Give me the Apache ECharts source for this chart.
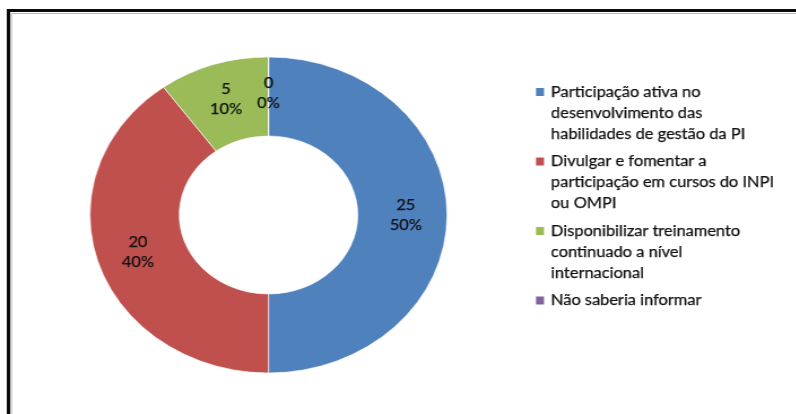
<!DOCTYPE html>
<html>
<head>
<meta charset="utf-8">
<script src="https://cdn.jsdelivr.net/npm/echarts@6/dist/echarts.min.js"></script>
<style>
  html, body { margin: 0; padding: 0; background: #fff; overflow: hidden; }
  #wrap { width: 796px; height: 414px; overflow: hidden; position: relative; }
  /* the chart is laid out narrower and stretched sideways, giving the oval doughnut */
  #chart { position: absolute; left: 0; top: 0; height: 414px; transform-origin: 0 0; }
</style>
</head>
<body>
<div id="wrap"><div id="chart"></div></div>
<script>
// Respostas por categoria
const categories = [
  'Participação ativa no\ndesenvolvimento das\nhabilidades de gestão da PI',
  'Divulgar e fomentar a\nparticipação em cursos do INPI\nou OMPI',
  'Disponibilizar treinamento\ncontinuado a nível\ninternacional',
  'Não saberia informar'
];
const values = [25, 20, 5, 0];
const colors = ['#4F81BD', '#C0504D', '#9BBB59', '#8064A2'];

const STRETCH = 1.13;          // horizontal stretch of the whole drawing
const W = 796 / STRETCH;
const sx = x => x / STRETCH;   // page x -> chart x

const el = document.getElementById('chart');
el.style.width = W + 'px';
el.style.transform = 'scaleX(' + STRETCH + ')';

const chart = echarts.init(el, null, { renderer: 'canvas' });

const FONT = 'Lato, "Open Sans", sans-serif';
const LINE_H = 21;
const ITEM_GAP = 6.5;
const TEXT_COLOR = '#111111';

// legend drawn as graphic items: square swatch beside the first line of each name
const legendItems = [];
let y = 92;
categories.forEach((name, i) => {
  const lines = name.split('\n').length;
  legendItems.push({
    type: 'rect',
    shape: { x: sx(536), y: y - 4, width: sx(544) - sx(536), height: 8 },
    style: { fill: colors[i] },
    silent: true
  });
  legendItems.push({
    type: 'text',
    x: sx(551),
    y: y - LINE_H / 2,
    style: {
      text: name,
      font: '14.5px ' + FONT,
      lineHeight: LINE_H,
      fill: TEXT_COLOR,
      stroke: TEXT_COLOR,
      lineWidth: 0.25,
      verticalAlign: 'top',
      align: 'left'
    },
    silent: true
  });
  y += lines * LINE_H + ITEM_GAP;
});

// outer frame
const frame = [
  {
    type: 'rect',
    shape: { x: sx(8.5), y: 10.5, width: 2000, height: 2000 },
    style: { fill: null, stroke: '#0a0a0a', lineWidth: 3 },
    silent: true
  },
  {
    type: 'rect',
    shape: { x: sx(11.5), y: 13.5, width: 2000, height: 2000 },
    style: { fill: null, stroke: '#b5b5b5', lineWidth: 1 },
    silent: true
  }
];

chart.setOption({
  backgroundColor: '#ffffff',
  animation: false,
  color: colors,
  graphic: frame.concat(legendItems),
  series: [{
    type: 'pie',
    center: [sx(268.5), 215],
    radius: [79, 158],
    startAngle: 90,
    clockwise: true,
    avoidLabelOverlap: false,
    minShowLabelAngle: 0,
    stillShowZeroSum: true,
    itemStyle: { borderColor: '#ffffff', borderWidth: 0.6 },
    label: {
      show: true,
      position: 'inside',
      formatter: '{c}\n{d}%',
      fontFamily: FONT,
      fontSize: 14.5,
      lineHeight: 20,
      color: TEXT_COLOR,
      textBorderColor: TEXT_COLOR,
      textBorderWidth: 0.25
    },
    labelLine: { show: false },
    emphasis: { disabled: true },
    data: categories.map((name, i) => ({ name: name, value: values[i] }))
  }]
});
</script>
</body>
</html>
